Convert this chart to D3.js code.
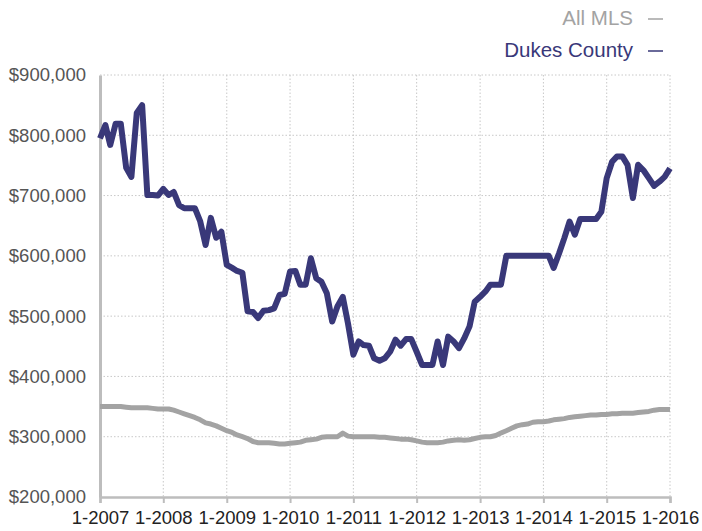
<!DOCTYPE html>
<html>
<head>
<meta charset="utf-8">
<script src="https://cdn.jsdelivr.net/npm/d3@7"></script>
<style>
  body { margin: 0; background: #fff; }
  svg { display: block; font-family: "Liberation Sans", Arial, sans-serif; }
  .grid line { stroke: #c8c8c8; stroke-dasharray: 1.5,2; }
  .y-label { fill: #555; font-size: 18.5px; }
  .x-label { fill: #222; font-size: 18.5px; }
</style>
</head>
<body>
<div class="chart"></div>
<script>
// monthly median prices, in $ thousands, 1-2007 .. 1-2016
var dukesCounty = [
  795, 817, 784, 819, 819, 746, 731, 837, 850, 701, 701, 700,
  711, 701, 706, 684, 679, 679, 679, 657, 618, 663, 630, 640,
  585, 580, 575, 572, 508, 507, 497, 509, 510, 513, 535, 537,
  574, 575, 552, 552, 596, 563, 557, 538, 491, 516, 532, 488,
  436, 458, 452, 451, 430, 426, 430, 441, 461, 451, 462, 462,
  441, 419, 419, 419, 458, 419, 466, 458, 447, 463, 483, 524,
  532, 541, 552, 552, 552, 600, 600, 600, 600, 600, 600, 600,
  600, 600, 580, 604, 629, 657, 635, 661, 661, 661, 661, 673,
  729, 756, 765, 765, 751, 696, 751, 742, 729, 716, 723, 731,
  745
];

var allMLS = [
  350, 350, 350, 350, 350, 349, 348, 348, 348, 348, 347, 346,
  346, 346, 344, 341, 338, 335, 332, 328, 323, 321, 318, 314,
  310, 307, 303, 300, 297, 292, 290, 290, 290, 289, 288, 288,
  289, 290, 291, 294, 295, 296, 299, 300, 300, 300, 306, 301,
  300, 300, 300, 300, 300, 299, 299, 298, 297, 296, 296, 295,
  293, 291, 290, 290, 290, 291, 293, 294, 295, 294, 295, 297,
  299, 300, 300, 302, 306, 310, 314, 318, 320, 321, 324, 325,
  325, 326, 328, 329, 330, 332, 333, 334, 335, 336, 336, 337,
  337, 338, 338, 339, 339, 339, 340, 341, 342, 344, 345, 345,
  345
];

var yTicks = [200, 300, 400, 500, 600, 700, 800, 900];
var xTickYears = [2007, 2008, 2009, 2010, 2011, 2012, 2013, 2014, 2015, 2016];

var seriesNames = ["All MLS", "Dukes County"];
var seriesColors = ["#a3a3a3", "#393879"];

var months = d3.timeMonth.range(new Date(2007, 0, 1), new Date(2016, 0, 2));

var width = 702, height = 531;
var margin = {top: 75, right: 32, bottom: 34, left: 100};

var svg = d3.select(".chart").append("svg")
  .attr("width", width)
  .attr("height", height);

var x = d3.scaleTime()
  .domain([new Date(2007, 0, 1), new Date(2016, 0, 1)])
  .range([margin.left, width - margin.right]);

var y = d3.scaleLinear()
  .domain([200, 900])
  .range([height - margin.bottom, margin.top]);

var yearDates = xTickYears.map(function(yr){ return new Date(yr, 0, 1); });

// dotted grid
var grid = svg.append("g").attr("class", "grid");
grid.selectAll(".gx")
  .data(yearDates.slice(1))
  .enter().append("line")
    .attr("x1", function(d){ return x(d); })
    .attr("x2", function(d){ return x(d); })
    .attr("y1", y(900))
    .attr("y2", y(200));
grid.selectAll(".gy")
  .data(yTicks.slice(1))
  .enter().append("line")
    .attr("x1", x.range()[0])
    .attr("x2", x.range()[1])
    .attr("y1", function(d){ return y(d); })
    .attr("y2", function(d){ return y(d); });

// axes
var xAxis = svg.append("g")
  .attr("transform", "translate(0," + y(200) + ")")
  .call(d3.axisBottom(x).tickValues(yearDates).tickSize(6).tickPadding(8)
    .tickFormat(d3.timeFormat("%-m-%Y")));
xAxis.select(".domain").attr("stroke", "#bdbdbd").attr("stroke-width", 2.5);
xAxis.selectAll(".tick line").attr("stroke", "#bdbdbd").attr("stroke-width", 2);
xAxis.selectAll("text").attr("class", "x-label").attr("fill", null)
  .attr("font-size", null).attr("font-family", null);

var yAxis = svg.append("g")
  .attr("transform", "translate(" + x.range()[0] + ",0)")
  .call(d3.axisLeft(y).tickValues(yTicks).tickSize(0).tickPadding(14)
    .tickFormat(function(d){ return "$" + d3.format(",")(d * 1000); }));
yAxis.select(".domain").attr("stroke", "#bdbdbd").attr("stroke-width", 3);
yAxis.selectAll("text").attr("class", "y-label").attr("fill", null)
  .attr("font-size", null).attr("font-family", null);

// lines
var line = d3.line()
  .x(function(d, i){ return x(months[i]); })
  .y(function(d){ return y(d); });

[allMLS, dukesCounty].forEach(function(series, i){
  svg.append("path")
    .datum(series)
    .attr("fill", "none")
    .attr("stroke", seriesColors[i])
    .attr("stroke-width", i === 1 ? 6 : 5)
    .attr("stroke-linejoin", "round")
    .attr("d", line);
});

// legend, top right
var legend = svg.append("g").selectAll("g")
  .data(seriesNames)
  .enter().append("g")
    .attr("transform", function(d, i){ return "translate(0," + (25 + i * 32) + ")"; });
legend.append("text")
  .attr("x", 633)
  .attr("text-anchor", "end")
  .attr("font-size", 20.5)
  .attr("fill", function(d, i){ return seriesColors[i]; })
  .text(function(d){ return d; });
legend.append("line")
  .attr("x1", 648).attr("x2", 663)
  .attr("y1", -6).attr("y2", -6)
  .attr("stroke", function(d, i){ return seriesColors[i]; })
  .attr("stroke-width", 1.5);
</script>
</body>
</html>
